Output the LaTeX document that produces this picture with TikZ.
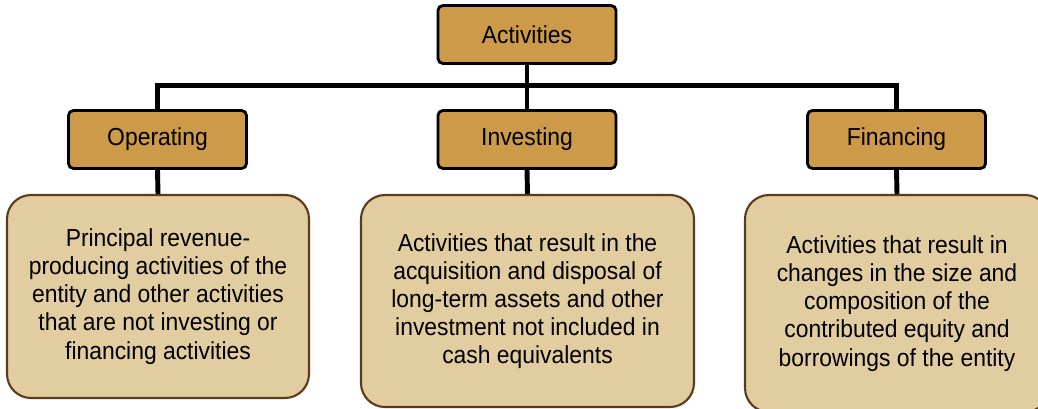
\documentclass[tikz,border=0pt]{standalone}
\usepackage{fontspec}
\setmainfont{Liberation Sans}[FakeStretch=0.93]
\usepackage{tikz}
\usetikzlibrary{positioning, calc}
\definecolor{mytan}{RGB}{204,154,72}
\definecolor{mysand}{RGB}{226,205,160}
\definecolor{mybrown}{RGB}{92,58,26}

\begin{document}
\begin{tikzpicture}[x=0.025cm, y=-0.025cm,
    headbox/.style={draw, line width=2pt, fill=mytan, rounded corners=3.5pt,
        minimum width=178*0.025cm, minimum height=58*0.025cm,
        font=\fontsize{17.5}{20}\selectfont},
    descbox/.style={draw=mybrown, line width=1.5pt, fill=mysand, rounded corners=0.6cm,
        align=center, font=\fontsize{17.5}{20}\selectfont},
    conn/.style={line width=3.5pt}]
    \useasboundingbox (0,0) rectangle (1038,408);

    % Top box
    \node[headbox] (act) at (527,34.5) {Activities};
    \coordinate (bus) at (527,85.5);

    % Category boxes
    \node[headbox] (op) at (157.5,139.5) {Operating};
    \node[headbox] (inv) at (527,139.5) {Investing};
    \node[headbox] (fin) at (896.5,139.5) {Financing};

    % Description boxes
    \node[descbox, minimum width=302*0.025cm, minimum height=203*0.025cm] (opd) at (158,296.5)
        {Principal revenue-\\producing activities of the\\entity and other activities\\that are not investing or\\financing activities};
    \node[descbox, minimum width=333*0.025cm, minimum height=212*0.025cm] (invd) at (527.5,301)
        {Activities that result in the\\acquisition and disposal of\\long-term assets and other\\investment not included in\\cash equivalents};
    \node[descbox, minimum width=304*0.025cm, minimum height=217*0.025cm] (find) at (897,303.5)
        {Activities that result in\\changes in the size and\\composition of the\\contributed equity and\\borrowings of the entity};

    % Connectors
    \draw[conn] (act.south) -- (inv.north);
    \draw[conn] (op.north) -- (op.north |- bus) -| (fin.north);
    \draw[conn] (op.south) -- (opd.north);
    \draw[conn] (inv.south) -- (invd.north);
    \draw[conn] (fin.south) -- (find.north);
\end{tikzpicture}
\end{document}
